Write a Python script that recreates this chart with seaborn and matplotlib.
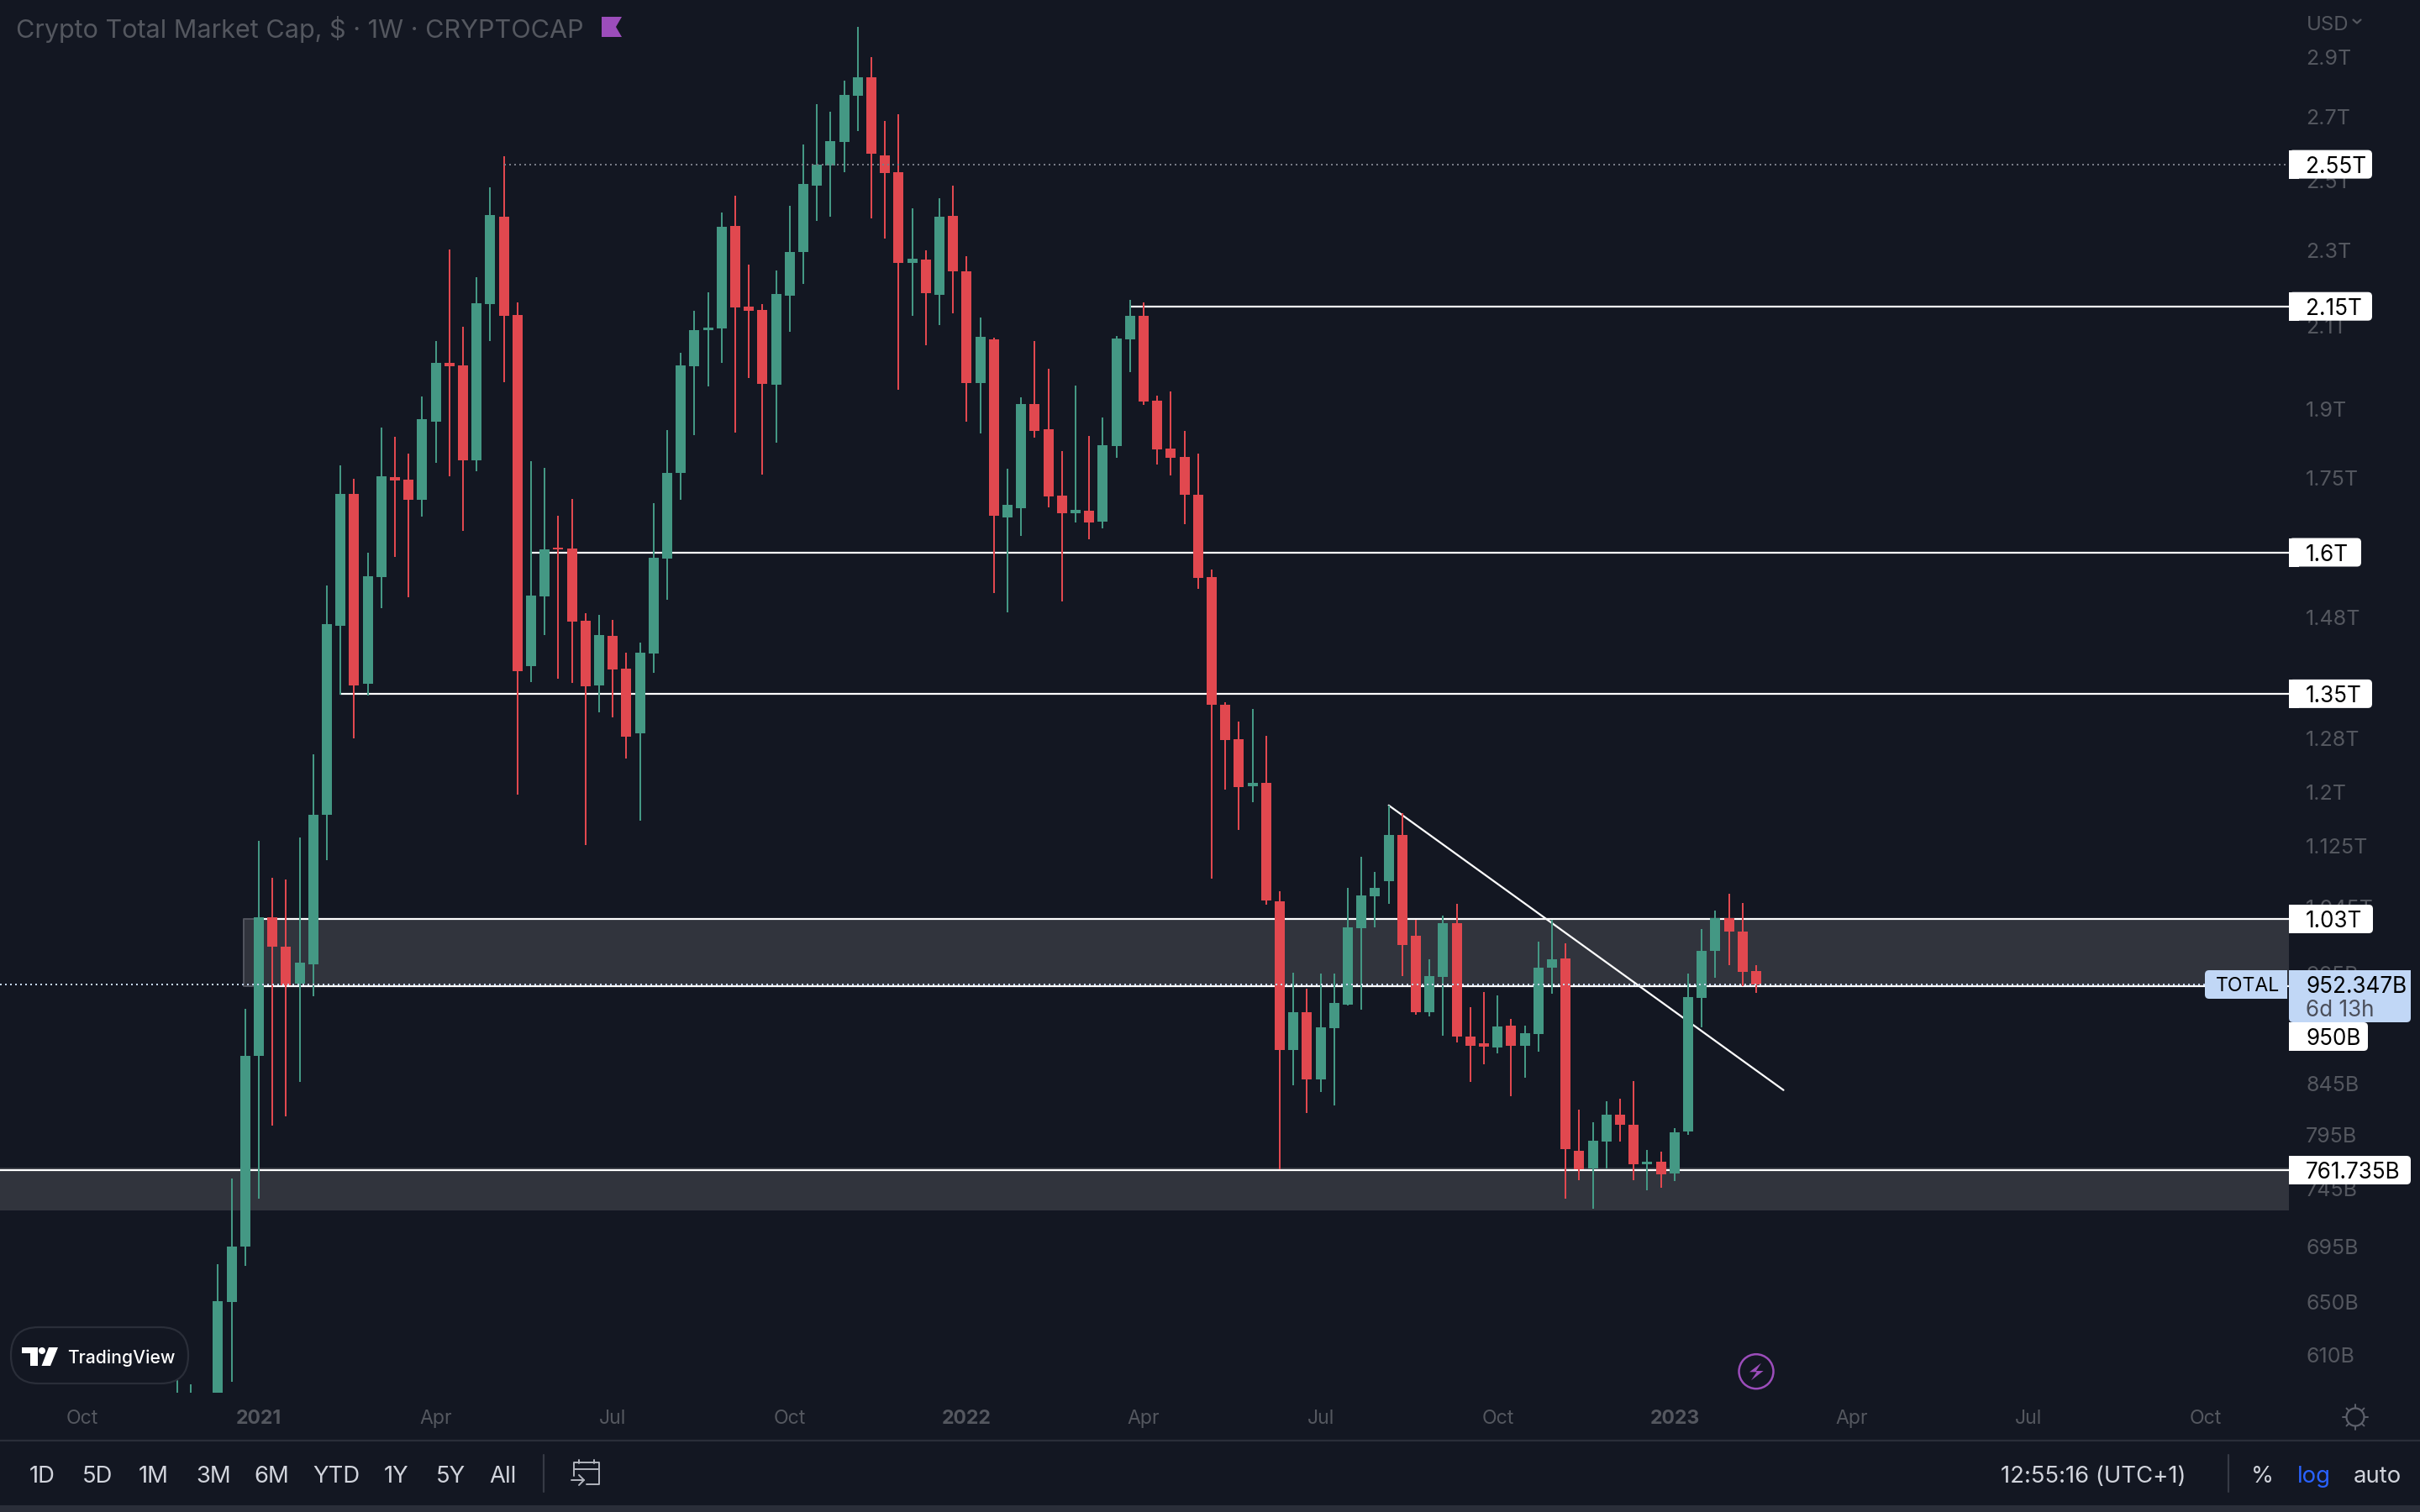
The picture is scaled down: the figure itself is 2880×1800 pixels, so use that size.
import pandas as pd
import matplotlib
matplotlib.use('Agg')
import matplotlib.pyplot as plt
import seaborn as sns
from matplotlib.lines import Line2D
from matplotlib.patches import Circle, FancyBboxPatch, Polygon, Rectangle
from matplotlib.transforms import Affine2D

# weekly candles, prices in billions of dollars (first four run off the bottom of the pane)
weeks = pd.date_range('2020-11-23', periods=117, freq='7D')
opens = [536.7,564.5,564.5,558.8,649.9,694.9,873.8,1032.1,996.3,953.0,975.4,1167.3,1464.8,1716.3,1366.3,1553.1,1751.3,1746.0,1704.2,1871.9,
         2008.3,2002.8,1787.0,2155.9,2394.4,2127.8,1395.6,1517.5,1608.9,1607.3,1473.7,1363.5,1447.2,1391.3,1287.3,1416.8,1588.0,1760.1,2000.8,2089.5,
         2093.7,2368.0,2149.4,2140.7,1956.8,2177.8,2295.1,2485.5,2546.5,2619.4,2768.9,2831.1,2577.5,2526.0,2265.2,2274.3,2180.0,2396.9,2242.4,1960.8,
         2066.4,1668.5,1687.1,1912.0,1854.9,1712.8,1676.9,1682.0,1660.1,1817.9,2066.4,2125.7,1919.7,1812.4,1794.2,1714.5,1553.1,1332.3,1278.3,1208.0,
         1212.9,1052.1,880.0,920.9,849.4,903.4,929.3,1018.6,1058.4,1077.8,1139.4,1009.4,920.9,960.7,1024.8,894.3,887.1,882.6,906.1,884.4,
         897.0,971.4,982.3,779.6,763.3,788.3,814.2,804.4,767.1,769.5,758.7,797.9,936.8,991.3,1031.0,1014.5,967.5]
highs = [593.1,588.9,578.9,680.3,754.1,924.6,1131.3,1082.2,1080.0,1135.9,1255.3,1537.5,1776.2,1747.7,1599.2,1858.7,1839.1,1801.4,1929.4,2062.3,
         2302.0,2098.0,2226.6,2480.5,2574.9,2160.3,1785.2,1770.8,1671.8,1705.9,1487.2,1484.2,1475.2,1418.3,1435.5,1697.3,1853.1,2033.3,2138.6,2186.6,
         2406.6,2455.6,2260.6,2155.9,2244.7,2426.1,2611.5,2741.1,2716.3,2819.7,3007.8,2900.5,2686.4,2708.1,2418.7,2299.7,2448.2,2485.5,2283.5,2121.4,
         2070.6,1769.0,1927.5,2062.3,1994.7,1806.9,1954.9,1840.0,1881.3,2074.8,2166.8,2160.3,1931.3,1941.1,1851.2,1801.4,1567.3,1336.3,1305.6,1325.6,
         1283.4,1064.9,965.6,947.2,964.6,964.6,1069.2,1109.9,1089.9,1180.3,1169.6,1029.0,981.3,1034.2,1048.9,926.5,943.4,939.6,913.5,906.1,
         1002.3,1029.0,1000.3,819.1,806.8,827.4,830.0,847.7,780.4,778.8,801.2,964.6,1017.6,1040.4,1061.7,1049.9,974.4]
lows = [520.7,547.6,547.6,542.1,590.7,679.0,736.0,803.6,812.6,846.9,938.7,1105.4,1348.5,1279.6,1347.1,1496.2,1591.2,1515.9,1670.1,1781.6,
        1753.0,1641.7,1763.7,2062.3,1962.8,1195.9,1369.1,1448.6,1374.6,1367.7,1126.2,1320.2,1312.2,1248.9,1159.1,1384.3,1511.4,1704.2,1841.9,1952.9,
        2008.9,1847.5,1972.7,1756.6,1825.2,2085.3,2208.7,2382.4,2394.4,2526.0,2654.0,2389.6,2332.4,1945.0,2125.7,2051.9,2102.2,2132.1,1871.9,1845.6,
        1523.6,1488.7,1631.8,1836.3,1688.8,1508.3,1658.4,1625.3,1646.7,1792.4,1986.7,1910.0,1778.0,1754.8,1655.0,1531.3,1081.1,1203.2,1146.3,1185.1,
        1047.8,762.5,843.5,815.8,836.7,823.3,928.3,923.7,1019.7,1048.9,961.7,918.1,916.2,895.2,888.0,846.9,865.0,876.4,832.5,851.2,
        878.2,941.5,736.0,752.6,727.2,763.3,788.3,752.6,743.5,745.8,751.8,794.7,904.3,959.8,974.4,950.1,942.5]
closes = [547.6,576.0,573.1,650.8,694.7,873.8,1032.1,996.3,951.5,977.3,1167.3,1467.8,1716.3,1363.5,1554.7,1753.0,1744.2,1704.2,1877.5,2008.9,
          2000.2,1787.0,2158.1,2399.3,2125.7,1387.1,1519.0,1605.7,1605.7,1472.2,1362.2,1448.6,1389.9,1282.1,1418.3,1589.6,1760.1,2002.8,2089.5,2095.8,
          2365.6,2147.2,2138.6,1958.8,2182.2,2295.1,2490.6,2549.0,2622.1,2771.7,2831.1,2582.7,2523.4,2265.2,2276.6,2184.4,2394.4,2242.4,1960.8,2072.7,
          1671.8,1693.9,1912.0,1851.2,1711.1,1676.9,1683.7,1658.4,1819.7,2068.5,2125.7,1917.8,1810.6,1792.4,1714.5,1551.5,1332.3,1277.0,1206.8,1212.9,
          1053.1,880.0,920.9,849.4,904.3,931.1,1019.7,1059.5,1069.2,1139.4,998.3,920.9,961.7,1024.8,894.3,884.4,883.5,905.2,884.4,897.9,
          971.4,981.3,781.2,762.5,789.1,814.2,804.4,767.1,769.5,757.9,797.1,937.7,991.3,1031.0,1014.5,966.6,952.0]

# horizontal levels drawn on the chart
level_prices = [2150, 1600, 1350, 1030, 950, 761.735]
level_starts = ['2022-03-28', '2021-05-24', '2021-02-15', '2021-01-04', '2021-01-04', '2020-08-01']
resistance_price = 2550
resistance_start = '2021-05-10'
last_price = 952.347
trend_dates = ['2022-08-08', '2023-02-27']
trend_prices = [1180.6, 838.6]

# ticks hidden under the price labels in the original are left out
tick_prices = [2900, 2700, 2500, 2300, 2100, 1900, 1750, 1480, 1280, 1200, 1125, 1045, 965, 845, 795, 745, 695, 650, 610]
tick_labels = ['2.9T', '2.7T', '2.5T', '2.3T', '2.1T', '1.9T', '1.75T', '1.48T', '1.28T', '1.2T', '1.125T', '1.045T',
               '965B', '845B', '795B', '745B', '695B', '650B', '610B']
month_dates = ['2020-10-05', '2021-01-04', '2021-04-05', '2021-07-05', '2021-10-04', '2022-01-03', '2022-04-04', '2022-07-04',
               '2022-10-03', '2023-01-02', '2023-04-03', '2023-07-03', '2023-10-02']
month_labels = ['Oct', '2021', 'Apr', 'Jul', 'Oct', '2022', 'Apr', 'Jul', 'Oct', '2023', 'Apr', 'Jul', 'Oct']
range_buttons = ['1D', '5D', '1M', '3M', '6M', 'YTD', '1Y', '5Y', 'All']
range_x = [35, 98, 165, 233, 302, 372, 457, 519, 582]

BG = '#131722'
UP = '#449884'
DOWN = '#e1484f'
ZONE = '#31343d'
MUTED = '#54575f'
TOOL = '#d1d4dc'
BORDER = '#2a2e39'
PURPLE = '#9c4dbb'
BLUE = '#c1d7f6'

sns.set_theme(style='dark', rc={'figure.facecolor': BG, 'axes.facecolor': BG, 'savefig.facecolor': BG})
plt.rcParams['font.family'] = ['Inter', 'DejaVu Sans']

fig = plt.figure(figsize=(14.4, 9), dpi=200)
ax = fig.add_axes([0, 142 / 1800, 2724 / 2880, 1658 / 1800])
ax.set_yscale('log')

left = weeks[-1] - pd.Timedelta(days=903.1)
right = weeks[-1] + pd.Timedelta(days=273.9)

# ---------------------- zones and levels ----------------------
zone_start = pd.Timestamp('2020-12-27')
ax.fill_between([zone_start, right], 950, 1030, color=ZONE, lw=0, zorder=1)
ax.fill_between([left, right], 725.9, 764, color=ZONE, lw=0, zorder=1)
sns.lineplot(x=[pd.Timestamp('2021-01-04'), zone_start, zone_start, pd.Timestamp('2021-01-04')], y=[1030, 1030, 950, 950],
             sort=False, estimator=None, color='#50535d', linewidth=0.72, zorder=1.5, ax=ax)

for price, start in zip(level_prices, level_starts):
    sns.lineplot(x=[max(pd.Timestamp(start), left), right], y=[price, price], color='white', linewidth=0.8, zorder=2, ax=ax)
sns.lineplot(x=pd.to_datetime(trend_dates), y=trend_prices, color='white', linewidth=0.8, zorder=2, ax=ax)

# ---------------------- candles ----------------------
candles = pd.DataFrame({'week': weeks, 'open': opens, 'high': highs, 'low': lows, 'close': closes})
candles['direction'] = ['up' if c >= o else 'down' for o, c in zip(opens, closes)]
palette = {'up': UP, 'down': DOWN}

wicks = candles.melt(id_vars=['week', 'direction'], value_vars=['high', 'low'], value_name='price')
bodies = candles.melt(id_vars=['week', 'direction'], value_vars=['open', 'close'], value_name='price')
sns.lineplot(data=wicks, x='week', y='price', hue='direction', units='week', estimator=None, palette=palette,
             linewidth=0.72, solid_capstyle='butt', legend=False, zorder=3, ax=ax)
sns.lineplot(data=bodies, x='week', y='price', hue='direction', units='week', estimator=None, palette=palette,
             linewidth=4.32, solid_capstyle='butt', legend=False, zorder=4, ax=ax)

# dotted lines sit over the candles
sns.lineplot(x=[pd.Timestamp(resistance_start), right], y=[resistance_price, resistance_price], color='#787b86',
             linewidth=0.72, linestyle=(0, (1, 2)), zorder=5, ax=ax)
sns.lineplot(x=[left, right], y=[last_price, last_price], color='#c5d6f0', linewidth=0.72,
             linestyle=(0, (1, 2)), zorder=5, ax=ax)

# ---------------------- axes ----------------------
ax.set_xlim(left, right)
ax.set_ylim(583.0, 3106.5)
ax.set(xlabel='', ylabel='')
ax.grid(False)
for spine in ax.spines.values():
    spine.set_visible(False)

ax.yaxis.tick_right()
ax.set_yticks(tick_prices, tick_labels)
ax.minorticks_off()
ax.tick_params(axis='y', length=0, pad=7.2, labelsize=9.0, labelcolor=MUTED)
ax.set_xticks(pd.to_datetime(month_dates), month_labels)
ax.tick_params(axis='x', length=0, pad=7.1, labelsize=8.3, labelcolor=MUTED)
for tick in ax.get_xticklabels():
    if tick.get_text().startswith('20'):
        tick.set_fontweight('bold')

# ---------------------- pane furniture, placed in picture pixels ----------------------
top_left = Affine2D().scale(1, -1).translate(0, 1800)


def put_text(x, y, text, color, size, **kwargs):
    kwargs.setdefault('va', 'center_baseline')
    fig.text(x, y, text, color=color, fontsize=size, transform=top_left, **kwargs)


def put_line(xs, ys, color, width=0.72):
    fig.add_artist(Line2D(xs, ys, color=color, linewidth=width, transform=top_left, solid_capstyle='round'))


def price_row(price):
    return 1800 - ax.get_yaxis_transform().transform((0, price))[1]


def price_label(row, text, end, face='white'):
    fig.add_artist(FancyBboxPatch((2724, row - 17), end - 2724, 34, boxstyle='round,pad=0,rounding_size=5',
                                  fc=face, ec='none', transform=top_left, zorder=6))
    fig.add_artist(Rectangle((2724, row - 17), 12, 34, fc=face, ec='none', transform=top_left, zorder=6))
    put_text(2744, row, text, 'black', 9.4, zorder=7)


# title line and currency
put_text(19, 32, 'Crypto Total Market Cap, $ · 1W · CRYPTOCAP', MUTED, 11.0)
fig.add_artist(Polygon([(716, 20), (740, 20), (733, 32), (740, 44), (716, 44)], fc=PURPLE, ec='none', transform=top_left))
put_text(2745, 27, 'USD', MUTED, 8.6)
put_line([2800.5, 2805, 2809.5], [23.5, 27.5, 23.5], MUTED, 0.8)

# price labels
price_label(price_row(2550), '2.55T', 2823)
price_label(price_row(2150), '2.15T', 2823)
price_label(price_row(1600), '1.6T', 2810)
price_label(price_row(1350), '1.35T', 2823)
price_label(price_row(1030), '1.03T', 2824)
price_label(1234, '950B', 2818)
price_label(price_row(761.735), '761.735B', 2869)

fig.add_artist(FancyBboxPatch((2724, 1155), 145, 62, boxstyle='round,pad=0,rounding_size=5', fc=BLUE, ec='none',
                              transform=top_left, zorder=6))
fig.add_artist(Rectangle((2724, 1155), 145, 30, fc=BLUE, ec='none', transform=top_left, zorder=6))
put_text(2744, 1172, '952.347B', 'black', 9.4, zorder=7)
put_text(2744, 1200, '6d 13h', '#4b4f5b', 9.4, zorder=7)
fig.add_artist(FancyBboxPatch((2624, 1155), 98, 34, boxstyle='round,pad=0,rounding_size=5', fc=BLUE, ec='none',
                              transform=top_left, zorder=6))
fig.add_artist(Rectangle((2700, 1155), 22, 34, fc=BLUE, ec='none', transform=top_left, zorder=6))
put_text(2637, 1172, 'TOTAL', 'black', 8.3, zorder=7)

# TradingView badge
fig.add_artist(FancyBboxPatch((13, 1580), 211, 67, boxstyle='round,pad=0,rounding_size=33', fc=BG, ec=BORDER,
                              linewidth=0.8, transform=top_left, zorder=6))
fig.add_artist(Polygon([(26, 1604), (45, 1604), (45, 1626), (36, 1626), (36, 1611), (26, 1611)], fc='white', ec='none',
                       transform=top_left, zorder=7))
fig.add_artist(Circle((50, 1608), 4, fc='white', ec='none', transform=top_left, zorder=7))
fig.add_artist(Polygon([(58, 1604), (69, 1604), (60, 1626), (49.5, 1626)], fc='white', ec='none', transform=top_left, zorder=7))
put_text(80, 1615, 'TradingView', 'white', 7.6, fontweight='medium', zorder=7)

# lightning mark
fig.add_artist(Circle((2090, 1632.7), 20.5, fc='none', ec=PURPLE, linewidth=0.9, transform=top_left, zorder=6))
bolt_x = [168, 126, 152, 132, 176, 150]
bolt_y = [98, 130, 130, 160, 126, 126]
fig.add_artist(Polygon([(2040 + x / 3, 1590 + y / 3) for x, y in zip(bolt_x, bolt_y)], fc=PURPLE, ec='none',
                       transform=top_left, zorder=6))

# settings sun
fig.add_artist(Circle((2803, 1687), 10.5, fc='none', ec='#5d606b', linewidth=0.8, transform=top_left))
for dx, dy in [(0, -1), (0, 1), (-1, 0), (1, 0), (-0.7, -0.7), (0.7, -0.7), (-0.7, 0.7), (0.7, 0.7)]:
    put_line([2803 + 11 * dx, 2803 + 15 * dx], [1687 + 11 * dy, 1687 + 15 * dy], '#5d606b', 0.7)

# time axis border and bottom toolbar
put_line([0, 2880], [1715, 1715], BORDER, 0.8)
fig.add_artist(Rectangle((0, 1792), 2880, 8, fc=BORDER, ec='none', transform=top_left))
for x, label in zip(range_x, range_buttons):
    put_text(x, 1755, label, TOOL, 9.9)
put_line([647, 647], [1732, 1776], '#363a45', 0.8)
put_line([2652, 2652], [1732, 1776], '#363a45', 0.8)

# calendar icon
cal = '#b2b5be'
put_line([683, 683, 713, 713, 698], [1757, 1741, 1741, 1767, 1767], cal, 0.7)
put_line([683, 713], [1749, 1749], cal, 0.7)
put_line([689, 689], [1738, 1742], cal, 0.7)
put_line([707, 707], [1738, 1742], cal, 0.7)
put_line([680, 695], [1762, 1762], cal, 0.7)
put_line([689, 695, 689], [1756, 1762, 1768], cal, 0.7)

put_text(2381, 1755, '12:55:16 (UTC+1)', TOOL, 9.9)
put_text(2679, 1755, '%', TOOL, 9.9)
put_text(2734, 1755, 'log', '#2962ff', 9.9)
put_text(2801, 1755, 'auto', TOOL, 9.9)

fig.savefig('out.png', dpi=200)
